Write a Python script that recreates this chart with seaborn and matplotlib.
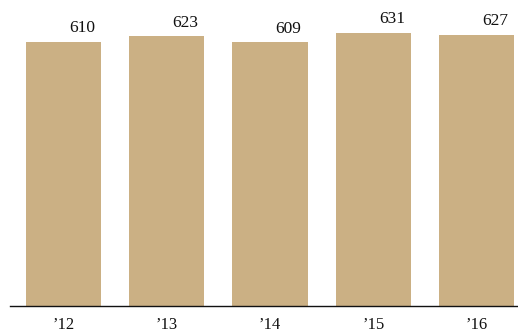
import numpy as np
import pandas as pd

import matplotlib
matplotlib.use("Agg")
import matplotlib.pyplot as plt
import seaborn as sns


years = ["\u201912", "\u201913", "\u201914", "\u201915", "\u201916"]
values = [610, 623, 609, 631, 627]

bar_color = "#CBB084"


def main():
    df = pd.DataFrame({"year": years, "value": values})

    sns.set_style("white")
    plt.rcParams["font.family"] = ["Liberation Serif", "DejaVu Serif"]

    fig = plt.figure(figsize=(5.18, 3.33), dpi=100)
    # axes placed in pixel terms: left 10, right 517, baseline at 306 from top
    ax = fig.add_axes([10 / 518, 27 / 333, 507 / 518, 296 / 333])

    sns.barplot(data=df, x="year", y="value", color=bar_color, width=0.728,
                saturation=1, linewidth=0, ax=ax)

    ax.set_xlim(-0.519, 4.393)
    ax.set_ylim(0, 684)

    for i, v in enumerate(values):
        ax.annotate(str(v), xy=(i + 0.18, v), xytext=(0, 4), textcoords="offset points",
                    ha="center", va="bottom", fontsize=12.5, color="#111111")

    for side in ["top", "left", "right"]:
        ax.spines[side].set_visible(False)
    ax.spines["bottom"].set_color("#111111")
    ax.spines["bottom"].set_linewidth(1.0)

    ax.set_yticks([])
    ax.set_xlabel("")
    ax.set_ylabel("")
    ax.tick_params(axis="x", length=0, pad=8, labelsize=12, colors="#111111")

    fig.savefig("out.png", dpi=100)


if __name__ == '__main__':
    main()
